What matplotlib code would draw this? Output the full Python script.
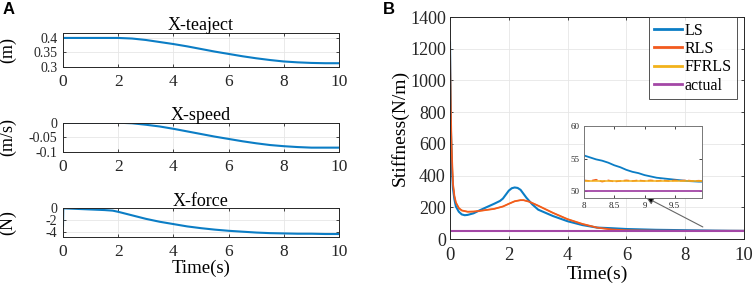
import matplotlib
matplotlib.use("Agg")
import matplotlib.pyplot as plt
import numpy as np

plt.rcParams['font.family'] = ['Liberation Serif', 'DejaVu Serif']
plt.rcParams['mathtext.fontset'] = 'stix'

# ---------------- data ----------------
t_pos = [0, 1, 2, 2.5, 3, 3.5, 4, 4.5, 5, 5.5, 6, 6.5, 7, 7.5, 8, 8.5, 9, 9.5, 10]
pos = [0.4, 0.4, 0.4, 0.398, 0.393, 0.386, 0.379, 0.371, 0.362, 0.353, 0.345,
       0.337, 0.330, 0.324, 0.319, 0.316, 0.314, 0.313, 0.313]

t_spd = [0, 1, 2, 2.5, 3, 3.5, 4, 4.5, 5, 5.5, 6, 6.5, 7, 7.5, 8, 8.5, 9, 9.5, 10]
spd = [0, 0, 0, -0.002, -0.007, -0.013, -0.021, -0.030, -0.039, -0.048, -0.056,
       -0.064, -0.071, -0.077, -0.081, -0.084, -0.086, -0.086, -0.086]

t_frc = [0, 0.01, 0.5, 1, 1.5, 1.8, 2, 2.5, 3, 3.5, 4, 4.5, 5, 5.5, 6, 6.5, 7,
         7.5, 8, 8.5, 9, 9.5, 10]
frc = [-3.0, 0, -0.1, -0.2, -0.3, -0.4, -0.6, -1.2, -1.8, -2.3, -2.7, -3.1,
       -3.4, -3.65, -3.85, -4.0, -4.15, -4.25, -4.3, -4.35, -4.35, -4.4, -4.4]

t_ls = [0, 0.03, 0.07, 0.1, 0.15, 0.2, 0.3, 0.4, 0.5, 0.6, 0.8, 1.0, 1.2, 1.5,
        1.7, 1.8, 1.9, 2.0, 2.1, 2.2, 2.3, 2.4, 2.5, 2.6, 2.8, 3.0, 3.5, 4.0,
        4.5, 5.0, 5.5, 6.0, 7.0, 8.0, 8.5, 9.0, 9.5, 10]
ls = [1240, 700, 420, 320, 250, 205, 172, 155, 150, 152, 162, 180, 197, 222,
      240, 255, 280, 305, 320, 325, 322, 310, 285, 260, 218, 185, 145, 112,
      88, 72, 68, 63, 58, 55.5, 54.3, 53.0, 52.0, 51.5]

t_rls = [0, 0.02, 0.05, 0.1, 0.15, 0.2, 0.3, 0.4, 0.6, 0.8, 1.0, 1.5, 1.8,
         2.0, 2.2, 2.4, 2.5, 2.7, 3.0, 3.5, 4.0, 4.5, 5.0, 5.5, 6.0, 7.0, 8.0,
         9.0, 10]
rls = [1220, 900, 600, 350, 270, 230, 195, 180, 172, 173, 177, 190, 205,
       222, 238, 245, 245, 235, 210, 165, 125, 95, 72, 60, 55, 52.5, 51.8,
       51.7, 51.7]
ffrls = [1220, 900, 600, 350, 270, 230, 195, 180, 172, 173, 177, 190, 205,
         222, 238, 245, 245, 235, 210, 165, 125, 95, 72, 60, 55, 52.5, 51.7,
         51.7, 51.7]

actual_t = [0, 10]
actual = [50, 50]

# inset (zoomed) data
ti = [8.0, 8.1, 8.2, 8.3, 8.4, 8.5, 8.6, 8.7, 8.8, 8.9, 9.0, 9.1, 9.2, 9.3,
      9.4, 9.5, 9.6, 9.7, 9.8, 9.9, 9.95]
ls_i = [55.5, 55.2, 54.9, 54.7, 54.4, 54.0, 53.7, 53.3, 53.0, 52.8, 52.5,
        52.3, 52.1, 52.0, 51.9, 51.8, 51.7, 51.6, 51.55, 51.5, 51.5]
rls_i = [51.7, 51.6, 51.8, 51.5, 51.7, 51.5, 51.6, 51.7, 51.6, 51.7, 51.6,
         51.7, 51.6, 51.7, 51.6, 51.7, 51.65, 51.7, 51.6, 51.65, 51.6]
ff_i = [51.6, 51.6, 51.6, 51.6, 51.6, 51.6, 51.6, 51.6, 51.6, 51.6, 51.6,
        51.6, 51.6, 51.6, 51.6, 51.6, 51.6, 51.6, 51.6, 51.6, 51.6]
act_i = [50, 50]
act_ti = [8.0, 9.95]

C_LS = '#0B7DC5'
C_RLS = '#F25A1E'
C_FF = '#F2B21B'
C_ACT = '#A347A6'
GRID = '#e6e6e6'

fig = plt.figure(figsize=(7.54, 2.87), dpi=100)
W, H = 754, 287


def axrect(x0, y0, x1, y1):
    return [x0 / W, 1 - y1 / H, (x1 - x0) / W, (y1 - y0) / H]


def style(ax, xfs, yfs, xpad=4, ypad=3):
    for s in ax.spines.values():
        s.set_color('#262626')
        s.set_linewidth(0.7)
    ax.tick_params(direction='in', length=2.5, width=0.6,
                   colors='#262626')
    ax.tick_params(axis='x', labelsize=xfs, pad=xpad)
    ax.tick_params(axis='y', labelsize=yfs, pad=ypad)
    ax.tick_params(top=True, right=True, labeltop=False, labelright=False)
    ax.grid(True, color=GRID, linewidth=0.6)
    ax.set_axisbelow(True)


# ---- panel A ----
XT = [0, 2, 4, 6, 8, 10]
ax1 = fig.add_axes(axrect(63, 33, 339, 67))
ax1.plot(t_pos, pos, color=C_LS, lw=1.5)
ax1.set_xlim(0, 10)
ax1.set_ylim(0.3, 0.417)
ax1.set_yticks([0.3, 0.35, 0.4])
ax1.set_yticklabels(['0.3', '0.35', '0.4'])
ax1.set_xticks(XT)
ax1.set_title('X-teaject', fontsize=13, pad=2)
ax1.set_ylabel('(m)', fontsize=13)
style(ax1, 12.5, 10, xpad=5, ypad=4)

ax2 = fig.add_axes(axrect(63, 122.7, 339, 151.7))
ax2.plot(t_spd, spd, color=C_LS, lw=1.5)
ax2.set_xlim(0, 10)
ax2.set_ylim(-0.1, 0)
ax2.set_yticks([-0.1, -0.05, 0])
ax2.set_yticklabels(['-0.1', '-0.05', '0'])
ax2.set_xticks(XT)
ax2.set_title('X-speed', fontsize=13, pad=2)
ax2.set_ylabel('(m/s)', fontsize=13)
style(ax2, 12.5, 10, xpad=5, ypad=4)

ax3 = fig.add_axes(axrect(63, 208.3, 339, 236.7))
ax3.plot(t_frc, frc, color=C_LS, lw=1.5)
ax3.set_xlim(0, 10)
ax3.set_ylim(-4.86, 0)
ax3.set_yticks([-4, -2, 0])
ax3.set_yticklabels(['-4', '-2', '0'])
ax3.set_xticks(XT)
ax3.set_title('X-force', fontsize=13, pad=2)
ax3.set_ylabel('(N)', fontsize=13)
ax3.set_xlabel('Time(s)', fontsize=13.5, labelpad=0)
style(ax3, 12.5, 10, xpad=5, ypad=4)

for a in (ax1, ax2, ax3):
    a.yaxis.set_label_coords(-0.17, 0.5)

# ---- panel B ----
axb = fig.add_axes(axrect(450, 17, 744, 239))
axb.plot(t_ls, ls, color=C_LS, lw=1.5, label='LS')
axb.plot(t_rls, rls, color=C_RLS, lw=1.3, label='RLS')
axb.plot(t_rls, ffrls, color=C_FF, lw=1.0, label='FFRLS', zorder=1.9)
axb.plot(actual_t, actual, color=C_ACT, lw=1.5, label='actual')
axb.set_xlim(0, 10)
axb.set_ylim(0, 1400)
axb.set_xticks(XT)
axb.set_yticks(range(0, 1401, 200))
axb.set_xlabel('Time(s)', fontsize=14, labelpad=1)
axb.set_ylabel('Stiffness(N/m)', fontsize=14, labelpad=1)
style(axb, 13.5, 13, xpad=6, ypad=3)
h, l = axb.get_legend_handles_labels()
leg = axb.legend(h, l, loc='upper right', bbox_to_anchor=(0.977, 1.0),
                 fontsize=11.5, frameon=True, fancybox=False,
                 edgecolor='#262626', handlelength=1.75,
                 handletextpad=0.15, borderpad=0.35, labelspacing=0.15,
                 borderaxespad=0.0)
leg.get_frame().set_linewidth(0.7)
for line in leg.get_lines():
    line.set_linewidth(2.0)

axb.annotate('', xy=(6.67, 262), xytext=(8.6, 76),
             arrowprops=dict(arrowstyle='-|>', lw=0.8,
                             mutation_scale=11, shrinkA=0, shrinkB=0,
                             fc='black', ec='#666666'))

axi = fig.add_axes(axrect(584, 126, 702, 198))
axi.plot(ti, ls_i, color=C_LS, lw=1.3)
axi.plot(ti, rls_i, color=C_RLS, lw=1.1, ls='--')
axi.plot(ti, ff_i, color=C_FF, lw=1.1)
axi.plot(act_ti, act_i, color=C_ACT, lw=1.3)
axi.set_xlim(8, 9.95)
axi.set_ylim(49, 60)
axi.set_xticks([8, 8.5, 9, 9.5])
axi.set_xticklabels(['8', '8.5', '9', '9.5'])
axi.set_yticks([50, 55, 60])
style(axi, 6.5, 6.5, xpad=3, ypad=3)
axi.grid(False)
for s in axi.spines.values():
    s.set_color('#777777')
axi.set_facecolor('white')

fig.text(3 / W, 1 - 2 / H, 'A', fontsize=12, fontweight='bold',
         family=['Liberation Sans', 'DejaVu Sans'], va='top', ha='left')
fig.text(383 / W, 1 - 2 / H, 'B', fontsize=12, fontweight='bold',
         family=['Liberation Sans', 'DejaVu Sans'], va='top', ha='left')

fig.savefig('out.png', dpi=100)
